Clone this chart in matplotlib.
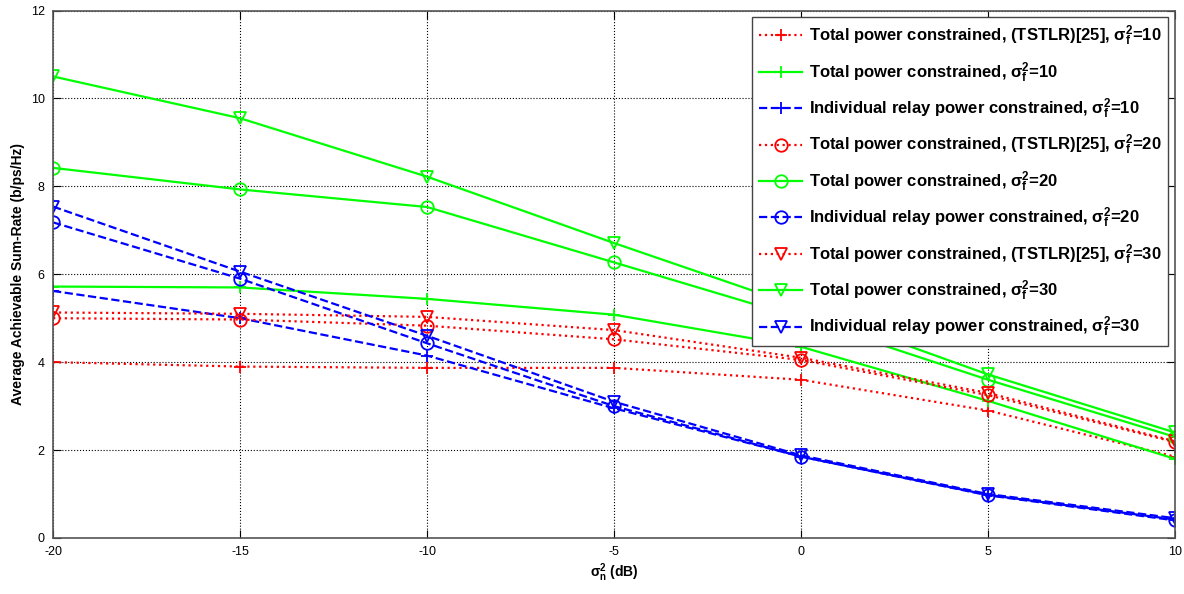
import numpy as np
import matplotlib
matplotlib.use("Agg")
import matplotlib.pyplot as plt

# noise variance sigma_n^2 (dB)
snr_db = [-20, -15, -10, -5, 0, 5, 10]

# sum-rate curves (b/ps/Hz)
tstlr_10 = [4.0, 3.9, 3.87, 3.87, 3.6, 2.9, 1.85]
total_10 = [5.72, 5.7, 5.44, 5.08, 4.35, 3.12, 1.8]
indiv_10 = [5.62, 5.0, 4.15, 2.95, 1.85, 0.97, 0.4]
tstlr_20 = [5.0, 4.97, 4.83, 4.52, 4.05, 3.25, 2.18]
total_20 = [8.42, 7.93, 7.53, 6.27, 5.0, 3.6, 2.3]
indiv_20 = [7.18, 5.9, 4.43, 3.0, 1.85, 0.98, 0.42]
tstlr_30 = [5.13, 5.1, 5.03, 4.73, 4.1, 3.3, 2.2]
total_30 = [10.5, 9.55, 8.22, 6.71, 5.25, 3.72, 2.4]
indiv_30 = [7.54, 6.06, 4.6, 3.1, 1.88, 1.0, 0.45]

sig = r"$\mathregular{\sigma_f^2}$"
series = [
    (tstlr_10, "r", ":", "+", "Total power constrained, (TSTLR)[25], " + sig + "=10"),
    (total_10, "#00ff00", "-", "+", "Total power constrained, " + sig + "=10"),
    (indiv_10, "b", "--", "+", "Individual relay power constrained, " + sig + "=10"),
    (tstlr_20, "r", ":", "o", "Total power constrained, (TSTLR)[25], " + sig + "=20"),
    (total_20, "#00ff00", "-", "o", "Total power constrained, " + sig + "=20"),
    (indiv_20, "b", "--", "o", "Individual relay power constrained, " + sig + "=20"),
    (tstlr_30, "r", ":", "v", "Total power constrained, (TSTLR)[25], " + sig + "=30"),
    (total_30, "#00ff00", "-", "v", "Total power constrained, " + sig + "=30"),
    (indiv_30, "b", "--", "v", "Individual relay power constrained, " + sig + "=30"),
]

plt.rcParams["font.family"] = ["Liberation Sans", "DejaVu Sans"]
plt.rcParams["axes.unicode_minus"] = False

fig = plt.figure(figsize=(11.84, 5.94), dpi=100)
ax = fig.add_axes([0.0448, 0.0943, 0.9476, 0.888])

for vals, col, ls, mk, lab in series:
    ax.plot(snr_db, vals, color=col, linestyle=ls, marker=mk, markersize=9,
            markerfacecolor="none", markeredgewidth=1.3, linewidth=1.6, label=lab)

ax.set_xlim(-20, 10)
ax.set_ylim(0, 12)
ax.set_xticks(np.arange(-20, 11, 5))
ax.set_yticks(np.arange(0, 13, 2))
ax.grid(True, color="k", linestyle=":", linewidth=0.8)
ax.tick_params(direction="in", top=True, right=True, labelsize=9, length=6, pad=6)
for sp in ax.spines.values():
    sp.set_color("#555555")
    sp.set_linewidth(1.2)

ax.set_xlabel(r"$\mathregular{\sigma_n^2}$ (dB)", fontsize=10, fontweight="bold", labelpad=2)
ax.set_ylabel("Average Achievable Sum-Rate (b/ps/Hz)", fontsize=10, fontweight="bold", labelpad=4)

leg = ax.legend(loc="upper right", prop={"weight": "bold", "size": 12},
                handlelength=2.6, handletextpad=0.4, labelspacing=0.72,
                borderaxespad=0.4, fancybox=False, framealpha=1, edgecolor="#444444")
leg.get_frame().set_linewidth(1.0)

fig.savefig("out.png", dpi=100)
